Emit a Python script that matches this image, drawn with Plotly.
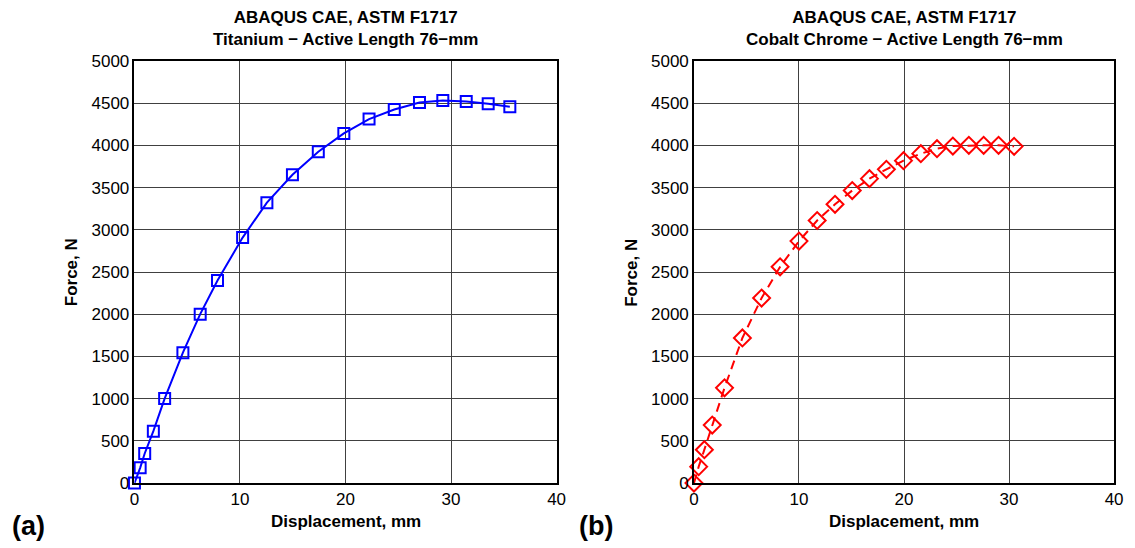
import plotly.graph_objects as go

# Titanium (a)
ti_disp = [0, 0.54, 0.97, 1.79, 2.86, 4.59, 6.23, 7.87, 10.25, 12.55, 14.97,
           17.42, 19.84, 22.23, 24.62, 27.01, 29.22, 31.44, 33.52, 35.57]
ti_force = [0, 181, 351, 615, 1001, 1545, 2001, 2400, 2908, 3321, 3652,
            3924, 4141, 4311, 4424, 4507, 4531, 4519, 4492, 4456]

# Cobalt Chrome (b)
cc_disp = [0, 0.45, 0.99, 1.74, 2.91, 4.61, 6.44, 8.2, 10.0, 11.73, 13.43,
           15.07, 16.71, 18.32, 19.95, 21.6, 23.14, 24.65, 26.17, 27.58, 29.0, 30.48]
cc_force = [0, 195, 396, 687, 1128, 1719, 2192, 2562, 2866, 3110, 3302,
            3465, 3606, 3716, 3819, 3902, 3961, 3992, 4000, 4000, 4000, 3988]

x_ticks = [0, 10, 20, 30, 40]
y_ticks = [0, 500, 1000, 1500, 2000, 2500, 3000, 3500, 4000, 4500, 5000]

titles = ["ABAQUS CAE, ASTM F1717<br>Titanium \u2212 Active Length 76\u2212mm",
          "ABAQUS CAE, ASTM F1717<br>Cobalt Chrome \u2212 Active Length 76\u2212mm"]
panel_labels = ["(a)", "(b)"]

W, H = 1135, 548
FONT = "Liberation Sans, Arial, sans-serif"

# observed rendering frame of the paper inside the photographed window
P_LEFT, P_TOP, P_W, P_H = 11, 16, 1126, 530


def fx(sx):
    return (sx - P_LEFT) / P_W


def fy(sy):
    return 1 - (sy - P_TOP) / P_H


fig = go.Figure()
fig.add_trace(go.Scatter(x=ti_disp, y=ti_force, mode="lines+markers",
                         line=dict(color="#0000ff", width=2),
                         marker=dict(symbol="square-open", size=11, color="#0000ff",
                                     line=dict(width=2, color="#0000ff")),
                         cliponaxis=False,
                         xaxis="x", yaxis="y", showlegend=False))
fig.add_trace(go.Scatter(x=cc_disp, y=cc_force, mode="lines+markers",
                         line=dict(color="#ff0000", width=2, dash="9px,6px"),
                         marker=dict(symbol="diamond-open", size=13, color="#ff0000",
                                     line=dict(width=2, color="#ff0000")),
                         cliponaxis=False,
                         xaxis="x2", yaxis="y2", showlegend=False))

left_px = [(133, 557), (695, 1117)]
top_px, bot_px = 60, 483
ydom = [fy(bot_px), fy(top_px)]

common_x = dict(range=[0, 40], tickvals=x_ticks, ticks="inside", ticklen=5,
                showgrid=True, gridcolor="#404040", gridwidth=1,
                showline=True, linecolor="black", linewidth=1.5, mirror=True,
                zeroline=False, tickfont=dict(family=FONT, size=17, color="black"))
common_y = dict(range=[0, 5000], tickvals=y_ticks, ticks="inside", ticklen=5,
                showgrid=True, gridcolor="#404040", gridwidth=1,
                showline=True, linecolor="black", linewidth=1.5, mirror=True,
                zeroline=False, tickfont=dict(family=FONT, size=17, color="black"))

fig.update_layout(
    width=W, height=H,
    margin=dict(l=0, r=0, t=0, b=0),
    paper_bgcolor="white", plot_bgcolor="white",
    xaxis=dict(domain=[fx(left_px[0][0]), fx(left_px[0][1])], anchor="y", **common_x),
    yaxis=dict(domain=ydom, anchor="x", **common_y),
    xaxis2=dict(domain=[fx(left_px[1][0]), fx(left_px[1][1])], anchor="y2", **common_x),
    yaxis2=dict(domain=ydom, anchor="x2", **common_y),
)

ann = []
for i, (a, b) in enumerate(left_px):
    cx = fx((a + b) / 2)
    ann.append(dict(text="<b>" + titles[i].replace("<br>", "</b><br><b>") + "</b>",
                    x=cx, y=fy(28), xref="paper", yref="paper",
                    xanchor="center", yanchor="middle", showarrow=False,
                    font=dict(family=FONT, size=17, color="black")))
    ann.append(dict(text="<b>Displacement, mm</b>", x=cx, y=fy(521),
                    xref="paper", yref="paper", xanchor="center", yanchor="middle",
                    showarrow=False, font=dict(family=FONT, size=17, color="black")))
    ann.append(dict(text="<b>Force, N</b>", x=fx(a - 63), y=fy(272),
                    xref="paper", yref="paper", xanchor="center", yanchor="middle",
                    textangle=-90, showarrow=False,
                    font=dict(family=FONT, size=17, color="black")))
lab_x = [27, 597]
for i in range(2):
    ann.append(dict(text="<b>" + panel_labels[i] + "</b>", x=fx(lab_x[i]), y=fy(526),
                    xref="paper", yref="paper", xanchor="center", yanchor="middle",
                    showarrow=False, font=dict(family=FONT, size=27, color="black")))
fig.update_layout(annotations=ann)

fig.write_html("out.html")
